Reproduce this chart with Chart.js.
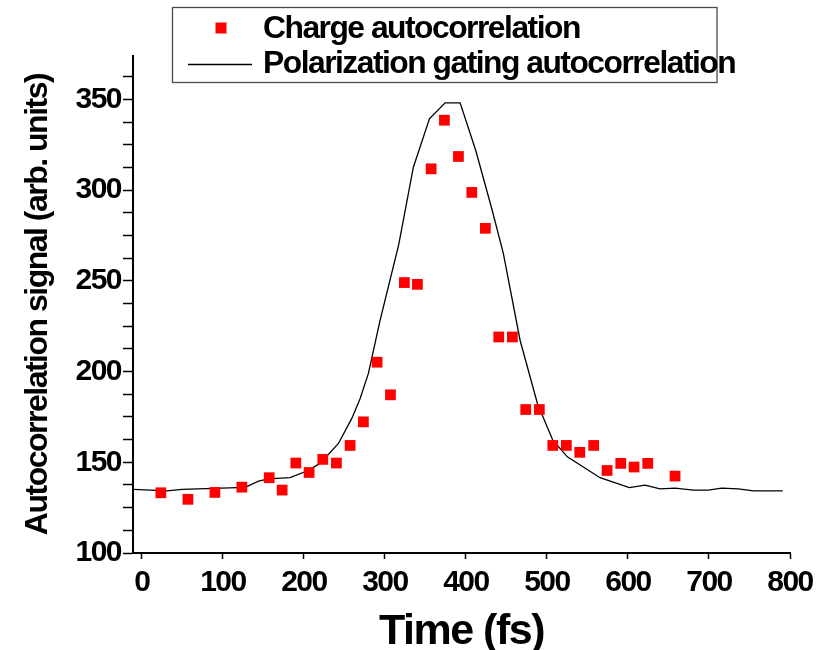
<!DOCTYPE html>
<html>
<head>
<meta charset="utf-8">
<script src="https://cdn.jsdelivr.net/npm/chart.js@4/dist/chart.umd.min.js"></script>
<style>
  html, body { margin: 0; padding: 0; background: #fff; }
  #wrap { position: relative; width: 823px; height: 650px; }
</style>
</head>
<body>
<div id="wrap"><canvas id="chart" width="823" height="650"></canvas></div>
<script>
// Charge autocorrelation measurements (time in fs, signal in arb. units)
const chargeTime = [23.4, 56.8, 90.1, 123.4, 157.1, 173.1, 190.0, 206.4, 223.3, 240.1, 257.0, 273.4, 290.3, 306.8, 324.0, 340.1, 357.0, 373.4, 390.7, 407.2, 424.0, 440.5, 457.3, 473.8, 490.6, 507.2, 523.9, 540.5, 557.7, 574.2, 591.1, 607.5, 624.4, 658.1];
const chargeSignal = [133.2, 129.6, 133.4, 136.3, 141.5, 134.7, 149.6, 144.4, 151.6, 149.6, 159.3, 172.3, 205.2, 187.2, 249.1, 248.1, 311.8, 338.6, 318.6, 298.8, 279.0, 219.1, 219.1, 179.1, 179.1, 159.3, 159.3, 155.5, 159.3, 145.5, 149.4, 147.4, 149.4, 142.4];

// Polarization gating autocorrelation trace
const gatingTime = [-10.4, 30.8, 49.4, 89, 127.5, 143.9, 156.2, 183, 203.6, 220, 242.6, 259.1, 269.4, 279.6, 294, 317, 335.1, 354.9, 374.3, 392.8, 412.1, 431.9, 446.2, 466.8, 488.2, 507.2, 525.2, 565.5, 601.7, 621.1, 639.6, 658.1, 680.6, 699.2, 715.7, 736.2, 754.7, 791];
const gatingSignal = [135.1, 134.3, 135.1, 135.6, 136.2, 139.6, 140.9, 141.5, 145.2, 149.4, 160.4, 174.2, 185.2, 199.0, 228.3, 270.0, 312.7, 339.4, 348.2, 348.2, 321.9, 289.8, 265.0, 217.3, 182.4, 162.2, 153.0, 141.5, 136.0, 137.4, 135.4, 135.8, 134.7, 134.7, 135.8, 135.4, 134.3, 134.3];

// Axis ticks
const xTickValues = [0, 100, 200, 300, 400, 500, 600, 700, 800];
const yLabelStep = 50;

const seriesLabels = ['Charge autocorrelation', 'Polarization gating autocorrelation'];

const FONT = "'Liberation Sans', Arial, sans-serif";
const LETTER_SPACING = '-1.5px';

const toPoints = (xs, ys) => xs.map((x, i) => ({ x: x, y: ys[i] }));

// Tight letter spacing for every piece of text on the canvas
const tightText = {
  id: 'tightText',
  beforeUpdate(chart) { chart.ctx.letterSpacing = LETTER_SPACING; },
  beforeDraw(chart) { chart.ctx.letterSpacing = LETTER_SPACING; }
};

// Boxed legend in the upper area, drawn from the dataset styles
const boxedLegend = {
  id: 'boxedLegend',
  afterDraw(chart) {
    const ctx = chart.ctx;
    const ds = chart.data.datasets;
    ctx.save();
    ctx.letterSpacing = LETTER_SPACING;
    ctx.strokeStyle = '#4a4a4a';
    ctx.lineWidth = 1.3;
    ctx.strokeRect(172.5, 7.5, 544.5, 75);

    ctx.font = "bold 31.8px " + FONT;
    ctx.textBaseline = 'alphabetic';
    ctx.textAlign = 'left';

    // scatter entry
    ctx.fillStyle = ds[0].backgroundColor;
    ctx.fillRect(215.5, 22.5, 11, 11);
    ctx.fillStyle = '#000';
    ctx.fillText(ds[0].label, 263, 38);

    // line entry
    ctx.strokeStyle = ds[1].borderColor;
    ctx.lineWidth = ds[1].borderWidth;
    ctx.beginPath();
    ctx.moveTo(188, 64.5);
    ctx.lineTo(252, 64.5);
    ctx.stroke();
    ctx.fillText(ds[1].label, 263, 73);
    ctx.restore();
  }
};

new Chart(document.getElementById('chart'), {
  type: 'scatter',
  data: {
    datasets: [
      {
        label: seriesLabels[0],
        data: toPoints(chargeTime, chargeSignal),
        pointStyle: 'rect',
        pointRadius: 7.6,
        pointHoverRadius: 7.6,
        backgroundColor: '#ff0000',
        borderColor: '#ff0000',
        borderWidth: 0,
        showLine: false,
        order: 0
      },
      {
        label: seriesLabels[1],
        data: toPoints(gatingTime, gatingSignal),
        showLine: true,
        borderColor: '#000',
        borderWidth: 1.3,
        pointRadius: 0,
        pointHoverRadius: 0,
        tension: 0,
        fill: false,
        order: 1
      }
    ]
  },
  options: {
    responsive: false,
    animation: false,
    events: [],
    layout: { padding: { left: 0, right: 33, top: 56, bottom: 0 } },
    plugins: {
      legend: { display: false },
      tooltip: { enabled: false }
    },
    scales: {
      x: {
        type: 'linear',
        min: -11,
        max: 800,
        afterBuildTicks(scale) {
          scale.ticks = xTickValues.map(v => ({ value: v }));
        },
        afterFit(scale) { scale.height = 97; },
        grid: { drawOnChartArea: false, drawTicks: true, tickLength: 6, tickColor: '#000', tickWidth: 1.5 },
        border: { display: true, color: '#000', width: 2 },
        ticks: {
          color: '#000',
          padding: 6,
          maxRotation: 0,
          autoSkip: false,
          includeBounds: false,
          font: { family: FONT, size: 30, weight: 'bold' }
        },
        title: {
          display: true,
          text: 'Time (fs)',
          color: '#000',
          font: { family: FONT, size: 43, weight: 'bold', lineHeight: 1 },
          padding: { top: 0, bottom: -4 }
        }
      },
      y: {
        type: 'linear',
        min: 100,
        max: 374,
        afterFit(scale) { scale.width = 133; },
        grid: { drawOnChartArea: false, drawTicks: true, tickLength: 10, tickColor: '#000', tickWidth: 1.5 },
        border: { display: true, color: '#000', width: 2 },
        ticks: {
          stepSize: 12.5,
          includeBounds: false,
          autoSkip: false,
          color: '#000',
          padding: 2,
          font: { family: FONT, size: 30, weight: 'bold' },
          callback: (v) => (v % yLabelStep === 0 ? String(v) : '')
        },
        title: {
          display: true,
          text: 'Autocorrelation signal (arb. units)',
          color: '#000',
          font: { family: FONT, size: 32, weight: 'bold', lineHeight: 1.2 },
          padding: { top: 19, bottom: 0 }
        }
      }
    }
  },
  plugins: [tightText, boxedLegend]
});
</script>
</body>
</html>
